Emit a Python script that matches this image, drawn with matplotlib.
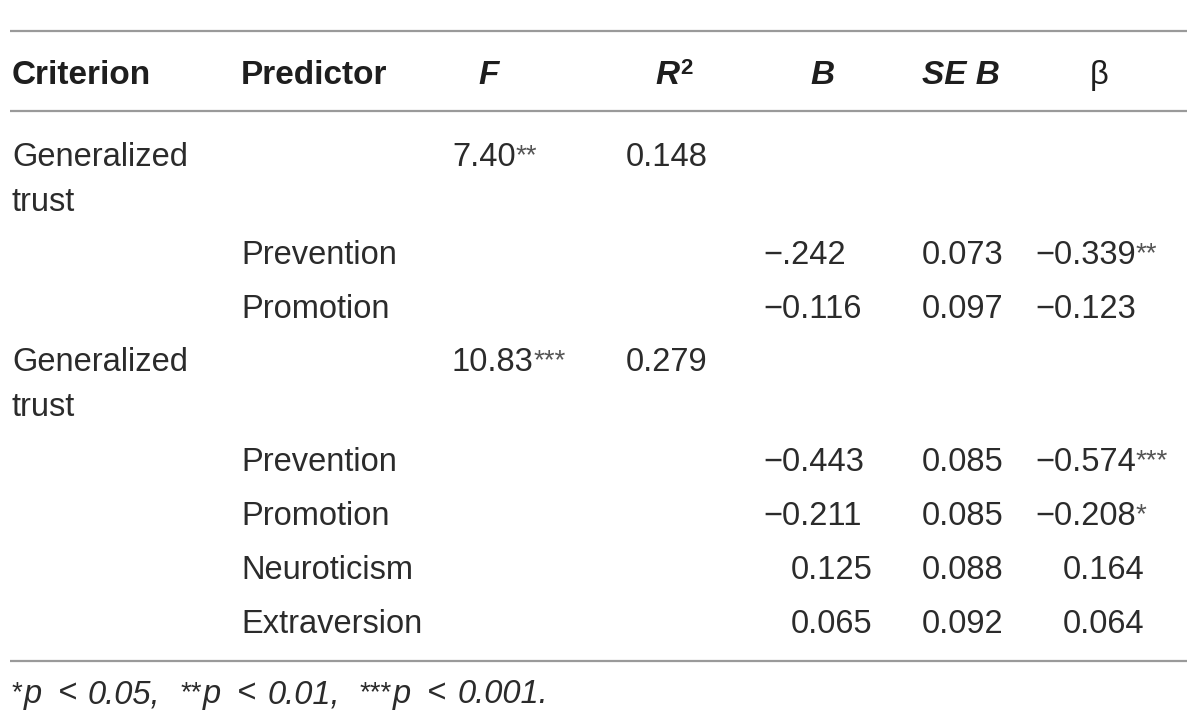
import matplotlib
matplotlib.use("Agg")
import matplotlib.pyplot as plt

# ── Table content ─────────────────────────────────────────────────────────────
headers = ["Criterion", "Predictor", "F", "R", "B", "SE B", "β"]

criterion = ["Generalized\ntrust", "Generalized\ntrust"]
model_F = ["7.40", "10.83"]
model_F_sig = ["**", "***"]
model_R2 = ["0.148", "0.279"]

predictors = [["Prevention", "Promotion"],
              ["Prevention", "Promotion", "Neuroticism", "Extraversion"]]
coef_B = [["−.242", "−0.116"],
          ["−0.443", "−0.211", "0.125", "0.065"]]
coef_SE = [["0.073", "0.097"],
           ["0.085", "0.085", "0.088", "0.092"]]
coef_beta = [["−0.339", "−0.123"],
             ["−0.574", "−0.208", "0.164", "0.064"]]
coef_beta_sig = [["**", ""],
                 ["***", "*", "", ""]]

foot_stars = ["*", "**", "***"]
foot_p = ["0.05,", "0.01,", "0.001."]

# ── Layout (pixel coords, y from top) ─────────────────────────────────────────
FONT = "Liberation Sans"
FS = 23.5
HFS = 24
SFS = 20      # significance stars
S_RAISE = 3
TXT = "#2b2b2b"
HEAD = "#1e1e1e"
SIG = "#555555"
RULE = "#9a9a9a"
MINUS_OFF = 28   # positive numbers are indented by the width of a minus

col_x = {"crit": 12, "pred": 241, "F": 452, "R2": 626,
         "B": 763, "SE": 922, "beta": 1035}

fig = plt.figure(figsize=(12, 7.25), dpi=100)
ax = fig.add_axes([0, 0, 1, 1])
ax.set_xlim(0, 1200)
ax.set_ylim(725, 0)
ax.axis("off")
renderer = fig.canvas.get_renderer()


def right_edge(t):
    bb = t.get_window_extent(renderer)
    return ax.transData.inverted().transform((bb.x1, bb.y0))[0]


def put(x, y, s, sig="", **kw):
    kw.setdefault("color", TXT)
    kw.setdefault("fontsize", FS)
    t = ax.text(x, y, s, va="baseline", ha="left", family=FONT, **kw)
    if sig:
        ax.text(right_edge(t), y - S_RAISE, sig, va="baseline", ha="left",
                family=FONT, fontsize=SFS, color=SIG)
    return t


def put_num(x, y, s, sig=""):
    if not s.startswith("−"):
        x = x + MINUS_OFF
    put(x, y, s, sig)


# rules
for y in (31, 111, 661):
    ax.plot([10, 1187], [y, y], color=RULE, lw=1.6, solid_capstyle="butt")

# header
hy = 84
hkw = dict(weight="bold", color=HEAD, fontsize=HFS)
put(col_x["crit"], hy, headers[0], **hkw)
put(col_x["pred"], hy, headers[1], **hkw)
put(478, hy, headers[2], style="italic", **hkw)
tr = put(655, hy, headers[3], style="italic", **hkw)
ax.text(right_edge(tr) + 1, hy - 10, "2", va="baseline", family=FONT,
        fontsize=16, weight="bold", color=HEAD)
put(810, hy, headers[4], style="italic", **hkw)
put(922, hy, headers[5], style="italic", **hkw)
put(1090, hy, headers[6], color=HEAD)

# body
model_y = [166, 371]
pred_y = [[264, 318], [471, 525, 579, 633]]
for m in range(len(criterion)):
    y0 = model_y[m]
    for k, line in enumerate(criterion[m].split("\n")):
        put(col_x["crit"], y0 + 45 * k, line)
    put(col_x["F"], y0, model_F[m], model_F_sig[m])
    put(col_x["R2"], y0, model_R2[m])
    for i, name in enumerate(predictors[m]):
        y = pred_y[m][i]
        put(col_x["pred"], y, name)
        put_num(col_x["B"], y, coef_B[m][i])
        put(col_x["SE"], y, coef_SE[m][i])
        put_num(col_x["beta"], y, coef_beta[m][i], coef_beta_sig[m][i])

# footnote: *p < 0.05, **p < 0.01, ***p < 0.001.
x = 12
fy = 703
fkw = dict(va="baseline", family=FONT, fontsize=FS, style="italic", color=TXT)
for stars, pval in zip(foot_stars, foot_p):
    s = ax.text(x, fy - S_RAISE, stars, va="baseline", family=FONT,
                fontsize=SFS, color=TXT)
    x = right_edge(s) + 1
    t = ax.text(x, fy, "p", **fkw)
    x = right_edge(t) + 16
    t = ax.text(x, fy, "<", **fkw)
    x = right_edge(t) + 11
    t = ax.text(x, fy, pval, **fkw)
    x = right_edge(t) + 20

fig.savefig("out.png", dpi=100, facecolor="white")
